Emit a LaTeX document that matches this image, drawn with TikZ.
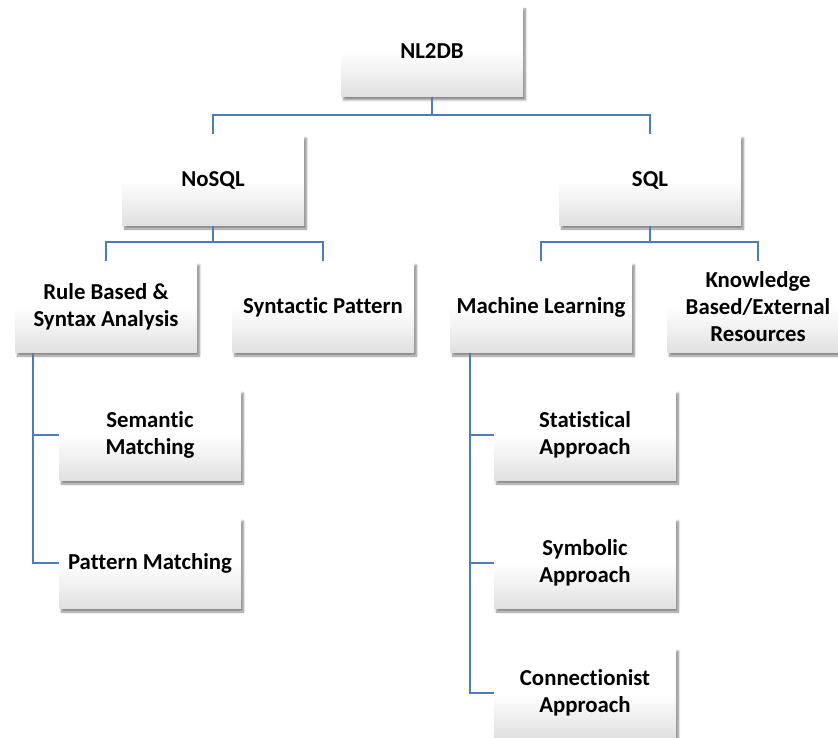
\documentclass[tikz,border=0pt]{standalone}
\usepackage{fontspec}
\setmainfont{Carlito}[Ligatures={NoCommon,TeX}]
\usetikzlibrary{shadows.blur}
\definecolor{linkblue}{RGB}{74,126,187}
\begin{document}
\begin{tikzpicture}[x=1pt,y=1pt,
  box/.style={minimum width=182pt,minimum height=91pt,inner sep=2pt,
    top color=white,bottom color=black!12,middle color=white,
    align=center,font=\bfseries\fontsize{22.8}{27}\selectfont,
    blur shadow={shadow xshift=2.5pt,shadow yshift=-3.5pt,shadow blur steps=6,shadow opacity=45}},
  link/.style={draw=linkblue,line width=2.5pt}]
\useasboundingbox (0,0) rectangle (838,-738);
\coordinate (bar1l) at (213,-115);
\coordinate (bar1r) at (650,-115);
\coordinate (bar2l) at (106,-242);
\coordinate (bar2r) at (323,-242);
\coordinate (bar3l) at (541,-242);
\coordinate (bar3r) at (758,-242);
\node[box] (nl2db) at (432,-51) {NL2DB};
\node[box] (nosql) at (213,-180) {NoSQL};
\node[box] (sql) at (650,-180) {SQL};
\node[box] (rule) at (106,-307) {Rule Based \&\\Syntax Analysis};
\node[box] (synt) at (323,-307) {Syntactic Pattern};
\node[box] (ml) at (541,-307) {Machine Learning};
\node[box] (know) at (758,-307) {Knowledge\\Based/External\\Resources};
\node[box] (sem) at (150,-435) {Semantic\\Matching};
\node[box] (patt) at (150,-563) {Pattern Matching};
\node[box] (stat) at (585,-435) {Statistical\\Approach};
\node[box] (symb) at (585,-563) {Symbolic\\Approach};
\node[box] (conn) at (585,-693) {Connectionist\\Approach};
\draw[link] (nl2db.south) |- (bar1l) -- (nosql.north);
\draw[link] (nl2db.south) |- (bar1r) -- (sql.north);
\draw[link] (nosql.south) |- (bar2l) -- (rule.north);
\draw[link] (nosql.south) |- (bar2r) -- (synt.north);
\draw[link] (sql.south) |- (bar3l) -- (ml.north);
\draw[link] (sql.south) |- (bar3r) -- (know.north);
\draw[link] ([xshift=-73pt]rule.south) |- (sem.west);
\draw[link] ([xshift=-73pt]rule.south) |- (patt.west);
\draw[link] ([xshift=-71pt]ml.south) |- (stat.west);
\draw[link] ([xshift=-71pt]ml.south) |- (symb.west);
\draw[link] ([xshift=-71pt]ml.south) |- (conn.west);
\end{tikzpicture}
\end{document}
